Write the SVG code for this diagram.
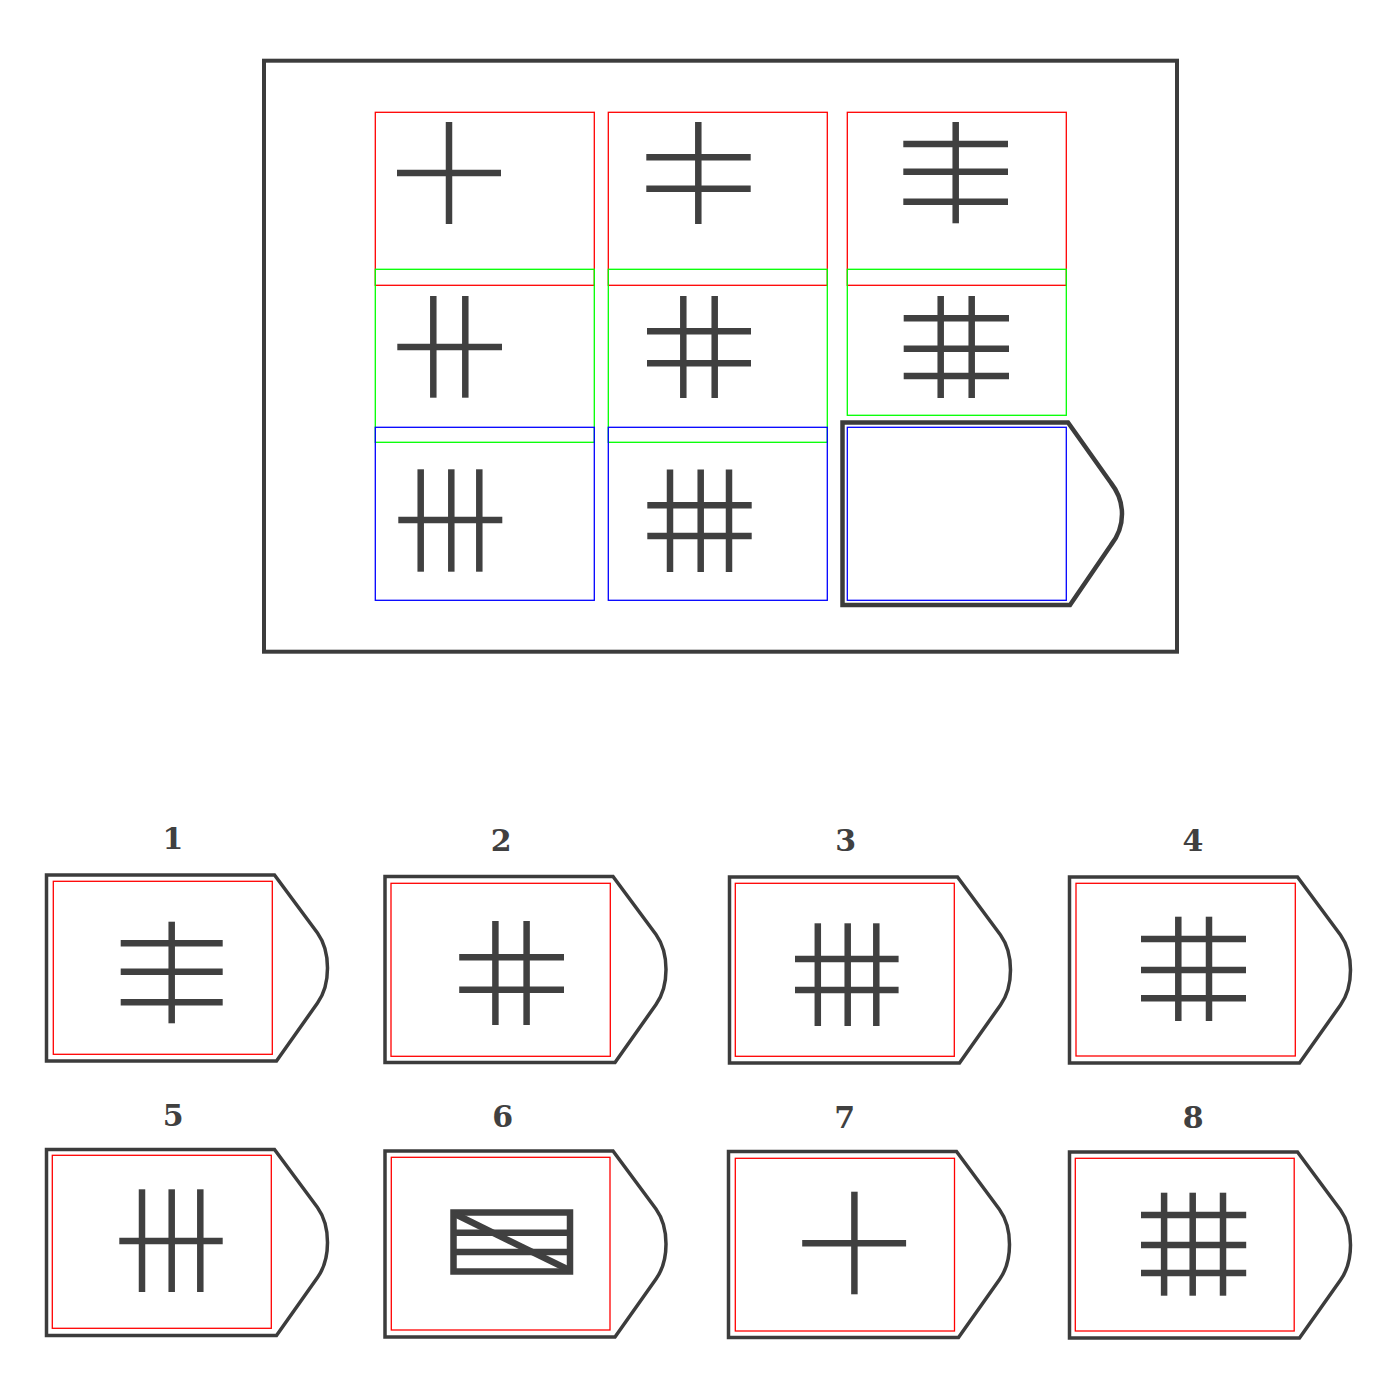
<svg xmlns="http://www.w3.org/2000/svg" xmlns:xlink="http://www.w3.org/1999/xlink" width="1400" height="1400" viewBox="0 0 1400 1400">
<style>
.bar{stroke:#404040;stroke-width:6.5;fill:none;stroke-linecap:butt}
.frame{stroke:#3c3c3c;stroke-width:4;fill:none}
.tag{stroke:#3c3c3c;stroke-width:3.5;fill:#fff;stroke-linejoin:miter}
.r{stroke:#ff0000;stroke-width:1.3;fill:none}
.g{stroke:#00ff00;stroke-width:1.3;fill:none}
.b{stroke:#0000ff;stroke-width:1.3;fill:none}
.lbl{font-family:"DejaVu Serif","Liberation Serif",serif;font-weight:bold;font-size:30px;fill:#404040;text-anchor:middle}
</style>
<defs>
<path id="tagShape" d="M0,0 H228 L271,58 Q281,72 281,93 Q281,114 271,128 L230,186 H0 Z"/>
</defs>
<rect width="1400" height="1400" fill="#fff"/>

<g id="matrix">
<rect class="frame" x="264" y="60.7" width="913" height="591"/>
<path id="missing-piece" class="frame" style="stroke-width:4.5" d="M842.5,422.5 H1068 L1111,483 Q1122,497 1122,514 Q1122,531 1111,545 L1070,605 H842.5 Z"/>

<g id="cell-r1c1">
<line class="bar" x1="449" y1="122" x2="449" y2="224"/>
<line class="bar" x1="397" y1="173" x2="501" y2="173"/>
</g>
<g id="cell-r1c2">
<line class="bar" x1="698.3" y1="122" x2="698.3" y2="224"/>
<line class="bar" x1="646.3" y1="157.3" x2="750.7" y2="157.3"/>
<line class="bar" x1="646.3" y1="188.7" x2="750.7" y2="188.7"/>
</g>
<g id="cell-r1c3">
<line class="bar" x1="955.7" y1="122" x2="955.7" y2="223.3"/>
<line class="bar" x1="903.3" y1="144" x2="1008" y2="144"/>
<line class="bar" x1="903.3" y1="171.7" x2="1008" y2="171.7"/>
<line class="bar" x1="903.3" y1="201.7" x2="1008" y2="201.7"/>
</g>
<g id="cell-r2c1">
<line class="bar" x1="433.3" y1="296" x2="433.3" y2="397.7"/>
<line class="bar" x1="465.3" y1="296" x2="465.3" y2="397.7"/>
<line class="bar" x1="397.3" y1="347" x2="502" y2="347"/>
</g>
<g id="cell-r2c2">
<line class="bar" x1="683.3" y1="296" x2="683.3" y2="398"/>
<line class="bar" x1="714.7" y1="296" x2="714.7" y2="398"/>
<line class="bar" x1="647" y1="331.3" x2="751" y2="331.3"/>
<line class="bar" x1="647" y1="363.3" x2="751" y2="363.3"/>
</g>
<g id="cell-r2c3">
<line class="bar" x1="940.7" y1="296" x2="940.7" y2="398"/>
<line class="bar" x1="971.7" y1="296" x2="971.7" y2="398"/>
<line class="bar" x1="903.7" y1="318.3" x2="1009" y2="318.3"/>
<line class="bar" x1="903.7" y1="348.7" x2="1009" y2="348.7"/>
<line class="bar" x1="903.7" y1="376" x2="1009" y2="376"/>
</g>
<g id="cell-r3c1">
<line class="bar" x1="420.7" y1="469.3" x2="420.7" y2="571.7"/>
<line class="bar" x1="451.3" y1="469.3" x2="451.3" y2="571.7"/>
<line class="bar" x1="479.3" y1="469.3" x2="479.3" y2="571.7"/>
<line class="bar" x1="398.3" y1="520" x2="502.3" y2="520"/>
</g>
<g id="cell-r3c2">
<line class="bar" x1="670" y1="469.5" x2="670" y2="572"/>
<line class="bar" x1="700.7" y1="469.5" x2="700.7" y2="572"/>
<line class="bar" x1="729" y1="469.5" x2="729" y2="572"/>
<line class="bar" x1="647.3" y1="505.3" x2="751.7" y2="505.3"/>
<line class="bar" x1="647.3" y1="536" x2="751.7" y2="536"/>
</g>

<g id="overlays">
<rect class="r" x="375.3" y="112.3" width="219" height="173"/>
<rect class="r" x="608.3" y="112.3" width="219" height="173"/>
<rect class="r" x="847.3" y="112.3" width="219" height="173"/>
<rect class="g" x="375.3" y="269.3" width="219" height="173"/>
<rect class="g" x="608.3" y="269.3" width="219" height="173"/>
<rect class="g" x="847.3" y="269.3" width="219" height="146"/>
<rect class="b" x="375.3" y="427.3" width="219" height="173"/>
<rect class="b" x="608.3" y="427.3" width="219" height="173"/>
<rect class="b" x="847.3" y="427.3" width="219" height="173"/>
</g>
</g>

<g id="option-1">
<text class="lbl" x="173" y="849">1</text>
<use class="tag" href="#tagShape" xlink:href="#tagShape" transform="translate(46.5,875)"/>
<rect class="r" x="53.3" y="881.3" width="219" height="173"/>
<line class="bar" x1="171.7" y1="921.7" x2="171.7" y2="1023.3"/>
<line class="bar" x1="120.7" y1="943.3" x2="222.7" y2="943.3"/>
<line class="bar" x1="120.7" y1="971.7" x2="222.7" y2="971.7"/>
<line class="bar" x1="120.7" y1="1002.3" x2="222.7" y2="1002.3"/>
</g>
<g id="option-2">
<text class="lbl" x="501.3" y="850.7">2</text>
<use class="tag" href="#tagShape" xlink:href="#tagShape" transform="translate(385,876.5)"/>
<rect class="r" x="391" y="883.3" width="219.3" height="173"/>
<line class="bar" x1="495.4" y1="921" x2="495.4" y2="1025"/>
<line class="bar" x1="526.6" y1="921" x2="526.6" y2="1025"/>
<line class="bar" x1="459.2" y1="957.3" x2="564" y2="957.3"/>
<line class="bar" x1="459.2" y1="989.7" x2="564" y2="989.7"/>
</g>
<g id="option-3">
<text class="lbl" x="845.6" y="851">3</text>
<use class="tag" href="#tagShape" xlink:href="#tagShape" transform="translate(729.5,877)"/>
<rect class="r" x="735.3" y="883.3" width="219" height="173"/>
<line class="bar" x1="817.8" y1="923.3" x2="817.8" y2="1026"/>
<line class="bar" x1="847.7" y1="923.3" x2="847.7" y2="1026"/>
<line class="bar" x1="876.3" y1="923.3" x2="876.3" y2="1026"/>
<line class="bar" x1="795" y1="959" x2="898.6" y2="959"/>
<line class="bar" x1="795" y1="990" x2="898.6" y2="990"/>
</g>
<g id="option-4">
<text class="lbl" x="1193" y="850.7">4</text>
<use class="tag" href="#tagShape" xlink:href="#tagShape" transform="translate(1069.5,877)"/>
<rect class="r" x="1076" y="883.3" width="219.3" height="172.7"/>
<line class="bar" x1="1178.3" y1="916.7" x2="1178.3" y2="1021"/>
<line class="bar" x1="1209" y1="916.7" x2="1209" y2="1021"/>
<line class="bar" x1="1141" y1="939" x2="1246" y2="939"/>
<line class="bar" x1="1141" y1="970" x2="1246" y2="970"/>
<line class="bar" x1="1141" y1="998.3" x2="1246" y2="998.3"/>
</g>
<g id="option-5">
<text class="lbl" x="173.3" y="1126">5</text>
<use class="tag" href="#tagShape" xlink:href="#tagShape" transform="translate(46.5,1149.5)"/>
<rect class="r" x="52.3" y="1155.3" width="219" height="173"/>
<line class="bar" x1="142" y1="1189.3" x2="142" y2="1292"/>
<line class="bar" x1="171.7" y1="1189.3" x2="171.7" y2="1292"/>
<line class="bar" x1="200.3" y1="1189.3" x2="200.3" y2="1292"/>
<line class="bar" x1="119.3" y1="1241" x2="222.7" y2="1241"/>
</g>
<g id="option-6">
<text class="lbl" x="502.7" y="1127.3">6</text>
<use class="tag" href="#tagShape" xlink:href="#tagShape" transform="translate(385,1151)"/>
<rect class="r" x="391.3" y="1157.3" width="218.7" height="172.7"/>
<rect class="bar" x="453.5" y="1212.5" width="116.5" height="59"/>
<line class="bar" x1="453.5" y1="1232.7" x2="570" y2="1232.7"/>
<line class="bar" x1="453.5" y1="1252" x2="570" y2="1252"/>
<line class="bar" x1="455" y1="1214" x2="569" y2="1270"/>
</g>
<g id="option-7">
<text class="lbl" x="844.7" y="1127.7">7</text>
<use class="tag" href="#tagShape" xlink:href="#tagShape" transform="translate(728.5,1151.5)"/>
<rect class="r" x="735.3" y="1158.3" width="219.2" height="172.7"/>
<line class="bar" x1="854.4" y1="1191.7" x2="854.4" y2="1294.3"/>
<line class="bar" x1="802.2" y1="1243.3" x2="906.1" y2="1243.3"/>
</g>
<g id="option-8">
<text class="lbl" x="1193.2" y="1128">8</text>
<use class="tag" href="#tagShape" xlink:href="#tagShape" transform="translate(1069.5,1152)"/>
<rect class="r" x="1075.3" y="1158.3" width="218.9" height="172.7"/>
<line class="bar" x1="1164.1" y1="1192.7" x2="1164.1" y2="1295.7"/>
<line class="bar" x1="1192.7" y1="1192.7" x2="1192.7" y2="1295.7"/>
<line class="bar" x1="1223" y1="1192.7" x2="1223" y2="1295.7"/>
<line class="bar" x1="1141" y1="1215" x2="1246.2" y2="1215"/>
<line class="bar" x1="1141" y1="1245" x2="1246.2" y2="1245"/>
<line class="bar" x1="1141" y1="1273" x2="1246.2" y2="1273"/>
</g>
</svg>
